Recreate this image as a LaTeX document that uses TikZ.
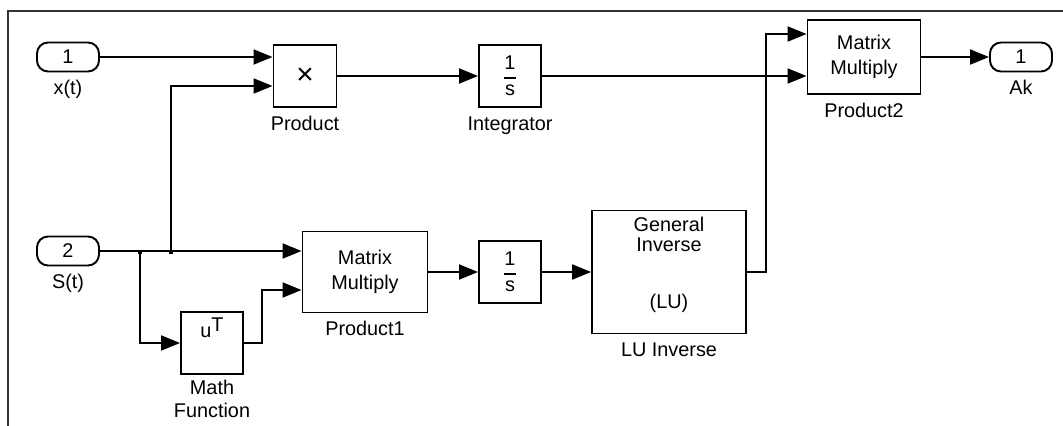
\documentclass[tikz,border=0pt]{standalone}
\usepackage{amsmath}
\usepackage{fontspec}
\setmainfont{Liberation Sans}
\usetikzlibrary{arrows.meta,positioning}
\definecolor{SFrame}{HTML}{333333}
\tikzset{
  blk/.style={draw,line width=1.1pt,inner sep=0pt,align=center},
  port/.style={draw,line width=1.1pt,rounded corners=0.22cm,minimum width=1.24cm,
               minimum height=0.58cm,inner sep=0pt},
  sig/.style={line width=1.1pt,-{Triangle[length=0.38cm,width=0.3cm]}},
  junc/.style={fill,rectangle,inner sep=0pt,minimum size=0.09cm},
  lbl/.style={inner sep=0pt,text height=8pt,text depth=2pt,label distance=4.5pt},
  lbltwo/.style={inner sep=0pt,align=center,label distance=3pt,
                 font=\fontsize{11.3}{13}\selectfont}
}
\newcommand{\ovs}{$\genfrac{}{}{1pt}{0}{\mbox{1}}{\mbox{s}}$}

\begin{document}
\begin{tikzpicture}[x=0.02cm,y=-0.02cm,font=\fontsize{11.3}{14}\selectfont]
  \useasboundingbox (0,0) rectangle (1063,426);
  \draw[SFrame,line width=1.1pt] (8,426) -- (8,11) -- (1063,11);

  % top row
  \node[port,label={[lbl]below:x(t)}] (in1) at (68,57) {1};
  \node[blk,minimum width=1.26cm,minimum height=1.24cm,
        label={[lbl]below:Product}] (prod) at (305,76) {\fontsize{17}{17}\selectfont×};
  \node[blk,minimum size=1.24cm,label={[lbl]below:Integrator}] (integ) at (510,76) {\ovs};
  \node[blk,minimum width=2.26cm,minimum height=1.48cm,
        label={[lbl]below:Product2}] (prod2) at (864,57) {Matrix\\Multiply};
  \node[port,label={[lbl]below:Ak}] (out1) at (1021,57) {1};

  % bottom row
  \node[port,label={[lbl]below:S(t)}] (in2) at (68,251) {2};
  \node[blk,minimum width=2.5cm,minimum height=1.62cm,
        label={[lbl]below:Product1}] (prod1) at (365,272) {Matrix\\Multiply};
  \node[blk,minimum size=1.24cm] (integb) at (510,272) {\ovs};
  \node[blk,minimum width=3.08cm,minimum height=2.46cm,
        label={[lbl]below:LU Inverse}] (luinv) at (669,272) {};
  \node[align=center,inner sep=0pt] (luinvtop) at ([yshift=-0.5cm]luinv.north)
       {General\\[-3pt]Inverse};
  \node[inner sep=0pt] (luinvlu) at ([yshift=0.62cm]luinv.south) {(LU)};
  \node[blk,minimum size=1.24cm,label={[lbltwo]below:Math\\Function}] (mathfn)
       at (212,343) {\smash{\raisebox{3pt}{u\raisebox{3.5pt}{T}}}};

  % branch points
  \node[junc] (b1) at (140,252) {};
  \node[junc] (b2) at (171,252) {};

  \draw[sig] (in1) -- (in1 -| prod.west);
  \draw[sig] (prod) -- (integ);
  \draw[sig] (integ) -- (integ -| prod2.west);
  \draw[sig] (prod2) -- (out1);
  \draw[sig] (in2) -- (in2 -| prod1.west);
  \draw[sig] (b2.center) |- ([yshift=-0.2cm]prod.west);
  \draw[sig] (b1.center) |- (mathfn);
  \draw[sig] (mathfn.east) -- ++(18,0) |- ([yshift=-0.36cm]prod1.west);
  \draw[sig] (prod1) -- (integb);
  \draw[sig] (integb) -- (luinv);
  \draw[sig] (luinv.east) -- ++(19,0) |- ([yshift=0.46cm]prod2.west);
\end{tikzpicture}
\end{document}
